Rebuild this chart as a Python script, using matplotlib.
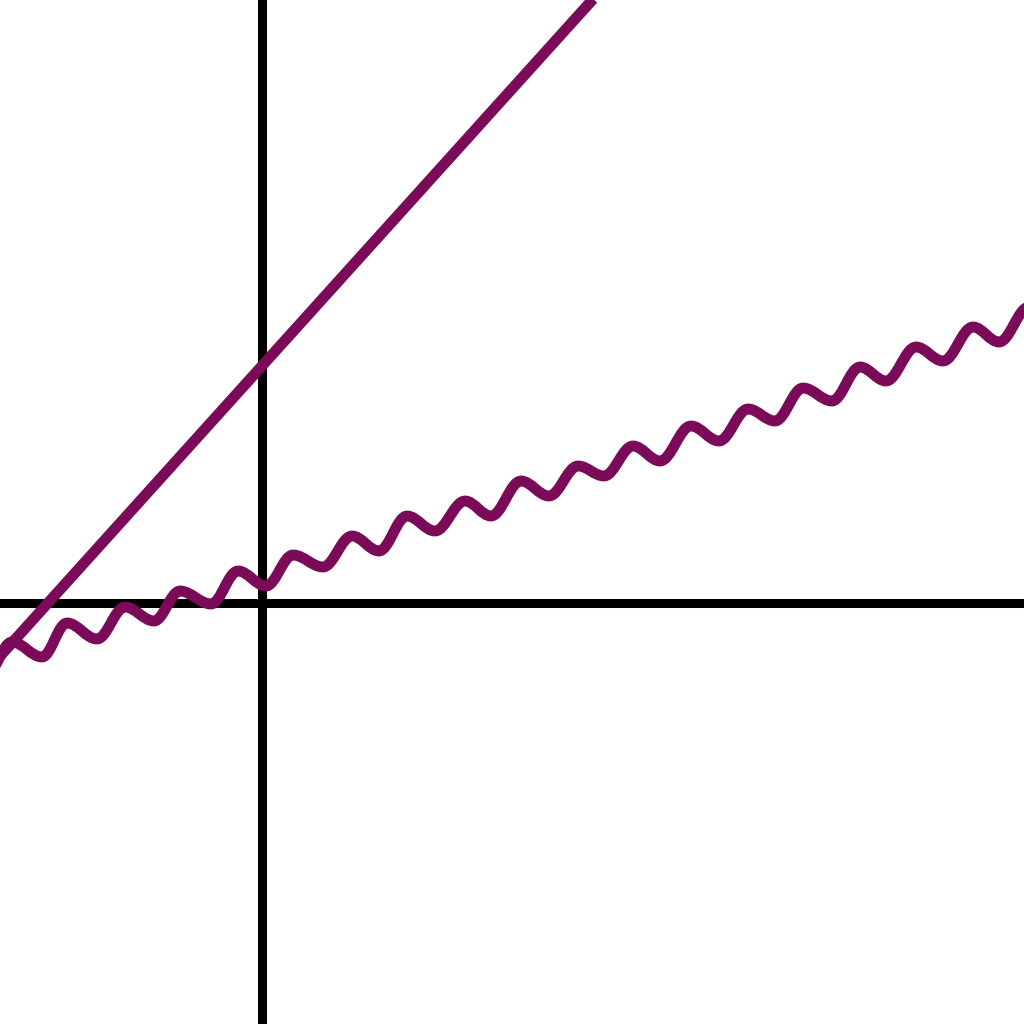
import numpy as np
import matplotlib
matplotlib.use('Agg')
import matplotlib.pyplot as plt
from matplotlib.path import Path
from matplotlib.patches import PathPatch

# prosta linia - dwa punkty
line_x = [-2.70, 3.42]
line_y = [-0.62, 6.16]

# falista linia - kolejne ekstrema (dolki i szczyty)
wave_x = [-2.76, -2.50, -2.20, -1.95, -1.65, -1.37, -1.08, -0.82, -0.51, -0.24,
          0.04, 0.31, 0.61, 0.90, 1.17, 1.45, 1.73, 2.03, 2.29, 2.59,
          2.87, 3.16, 3.42, 3.71, 3.98, 4.29, 4.57, 4.86, 5.13, 5.41,
          5.70, 5.98, 6.24, 6.54, 6.81, 7.11, 7.37, 7.67]
wave_y = [-0.72, -0.39, -0.54, -0.20, -0.36, -0.04, -0.18, 0.12, -0.01, 0.32,
          0.17, 0.48, 0.36, 0.67, 0.52, 0.87, 0.72, 1.02, 0.87, 1.22,
          1.07, 1.37, 1.27, 1.57, 1.42, 1.77, 1.62, 1.94, 1.82, 2.15,
          2.02, 2.36, 2.22, 2.56, 2.42, 2.76, 2.61, 2.96]

purple = '#7b0a58'

fig = plt.figure(figsize=(10.24, 10.24), dpi=100)
ax = fig.add_axes([0, 0, 1, 1])
ax.set_xlim(-2.62, 7.62)
ax.set_ylim(-4.21, 6.03)
ax.axis('off')

# osie ukladu
ax.axhline(0, color='black', lw=6.5, zorder=1)
ax.axvline(0, color='black', lw=6.5, zorder=1)

# prosta
ax.plot(line_x, line_y, color=purple, lw=7.8, solid_capstyle='butt', zorder=2)

# fala - gladkie segmenty miedzy ekstremami (poziome styczne w ekstremach)
verts = [(wave_x[0], wave_y[0])]
codes = [Path.MOVETO]
for i in range(1, len(wave_x)):
    x0, y0 = wave_x[i - 1], wave_y[i - 1]
    x1, y1 = wave_x[i], wave_y[i]
    h = 0.364 * (x1 - x0)
    verts += [(x0 + h, y0), (x1 - h, y1), (x1, y1)]
    codes += [Path.CURVE4] * 3
wave = PathPatch(Path(verts, codes), facecolor='none', edgecolor=purple,
                 lw=7.8, capstyle='round', joinstyle='round', zorder=3)
ax.add_patch(wave)

fig.savefig('out.png', dpi=100, facecolor='white')
